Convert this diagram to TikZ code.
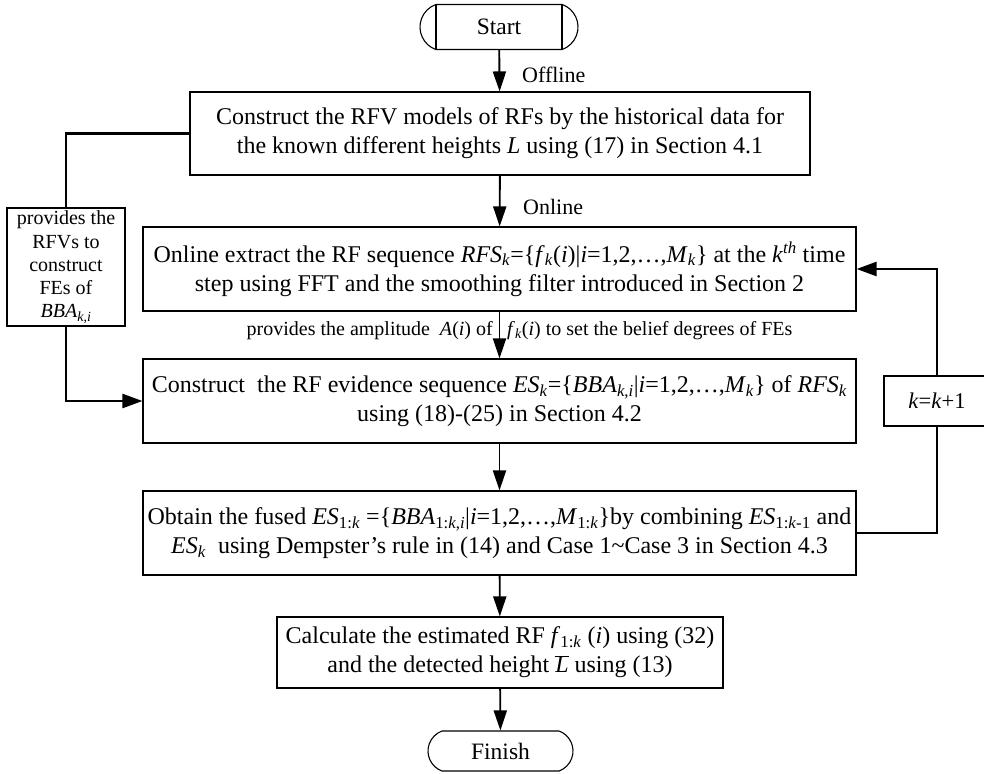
\documentclass[tikz,border=0pt]{standalone}
\usepackage{fontspec}
\setmainfont{Liberation Serif}
\usetikzlibrary{arrows.meta,shapes.misc}
\newcommand\vi[1]{\textit{#1}}
\newcommand\sbi[1]{\textsubscript{\textit{#1}}}
\begin{document}
\begin{tikzpicture}[x=1pt,y=-1pt,
  box/.style={draw,line width=1.1pt,align=center,inner sep=0pt,font=\fontsize{24}{29}\selectfont},
  term/.style={draw,line width=1.1pt,rounded rectangle,rounded rectangle arc length=140,inner sep=0pt,font=\fontsize{23.5}{28}\selectfont},
  conn/.style={line width=1.9pt,-{Triangle[length=20pt,width=13pt]}},
  loopc/.style={line width=2.4pt},
  lab/.style={font=\fontsize{22}{26}\selectfont,inner sep=0pt},
  small/.style={font=\fontsize{20}{24}\selectfont,inner sep=0pt}]
\useasboundingbox (0,0) rectangle (984,773);
\node[term,minimum width=158pt,minimum height=45pt] (start) at (499,27) {Start};
\draw[line width=1.1pt] ([xshift=-63pt]start.north) -- ([xshift=-63pt]start.south);
\draw[line width=1.1pt] ([xshift=63pt]start.north) -- ([xshift=63pt]start.south);
\node[box,minimum width=620pt,minimum height=83pt] (b1) at (500,133.5)
  {Construct the RFV models of RFs by the historical data for\\ the known different heights \vi{L} using (17) in Section 4.1};
\node[box,minimum width=713pt,minimum height=84pt] (b2) at (499.5,269)
  {Online extract the RF sequence \vi{RFS}\sbi{k}=\{\vi{f}\sbi{k}(\vi{i})|\vi{i}=1,2,…,\vi{M}\sbi{k}\} at the \vi{k}\textsuperscript{\vi{th}} time\\ step using FFT and the smoothing filter introduced in Section 2};
\node[box,minimum width=713pt,minimum height=84pt] (b3) at (499.5,401)
  {Construct\ \ the RF evidence sequence \vi{ES}\sbi{k}=\{\vi{BBA}\textsubscript{\vi{k},\vi{i}}|\vi{i}=1,2,…,\vi{M}\sbi{k}\} of \vi{RFS}\sbi{k}\\ using (18)-(25) in Section 4.2};
\node[box,minimum width=713pt,minimum height=84pt] (b4) at (499.5,533)
  {Obtain the fused \vi{ES}\textsubscript{1:\vi{k}} =\{\vi{BBA}\textsubscript{1:\vi{k},\vi{i}}|\vi{i}=1,2,…,\vi{M}\textsubscript{1:\vi{k}}\}by combining \vi{ES}\textsubscript{1:\vi{k}-1} and\\ \vi{ES}\sbi{k}\ \ using Dempster’s rule in (14) and Case 1\textasciitilde Case 3 in Section 4.3};
\node[box,minimum width=446pt,minimum height=71pt] (b5) at (500,652.5)
  {Calculate the estimated RF \vi{f}\textsubscript{1:\vi{k}} (\vi{i}) using (32)\\ and the detected height $\overline{\hbox{\vi{L}}}$ using (13)};
\node[term,minimum width=145pt,minimum height=40pt] (fin) at (500.5,751) {Finish};
\node[box,font=\fontsize{20}{23.3}\selectfont,minimum width=118pt,minimum height=118pt] (lbl) at (66,267)
  {provides the\\ RFVs to\\ construct\\ FEs of\\ \vi{BBA}\textsubscript{\vi{k},\vi{i}}};
\node[box,font=\fontsize{22.5}{26}\selectfont,minimum width=106pt,minimum height=50pt] (kb) at (937,401) {\vi{k}=\vi{k}+1};
% main flow
\draw[conn] (start) -- (b1);
\draw[conn] (b1) -- (b2);
\draw[conn] (b2) -- (b3);
\draw[conn] (b3) -- (b4);
\draw[conn] (b4) -- (b5);
\draw[conn] (b5) -- (fin);
\node[lab,anchor=west] (off) at (522,75) {Offline};
\node[lab,anchor=west] (onl) at (523,207) {Online};
\node[small,anchor=east] (ampl) at (493,331) {provides the amplitude\ \ \vi{A}(\vi{i}) of};
\node[small,anchor=west] (ampr) at (507,331) {\vi{f}\sbi{k}(\vi{i}) to set the belief degrees of FEs};
% left side
\draw[loopc] (b1.west) -| (lbl.north);
\draw[loopc,-{Triangle[length=20pt,width=14pt]}] (lbl.south) |- (b3.west);
% right loop
\draw[loopc] (b4.east) -| (kb.south);
\draw[loopc,-{Triangle[length=20pt,width=14pt]}] (kb.north) |- (b2.east);
\end{tikzpicture}
\end{document}
